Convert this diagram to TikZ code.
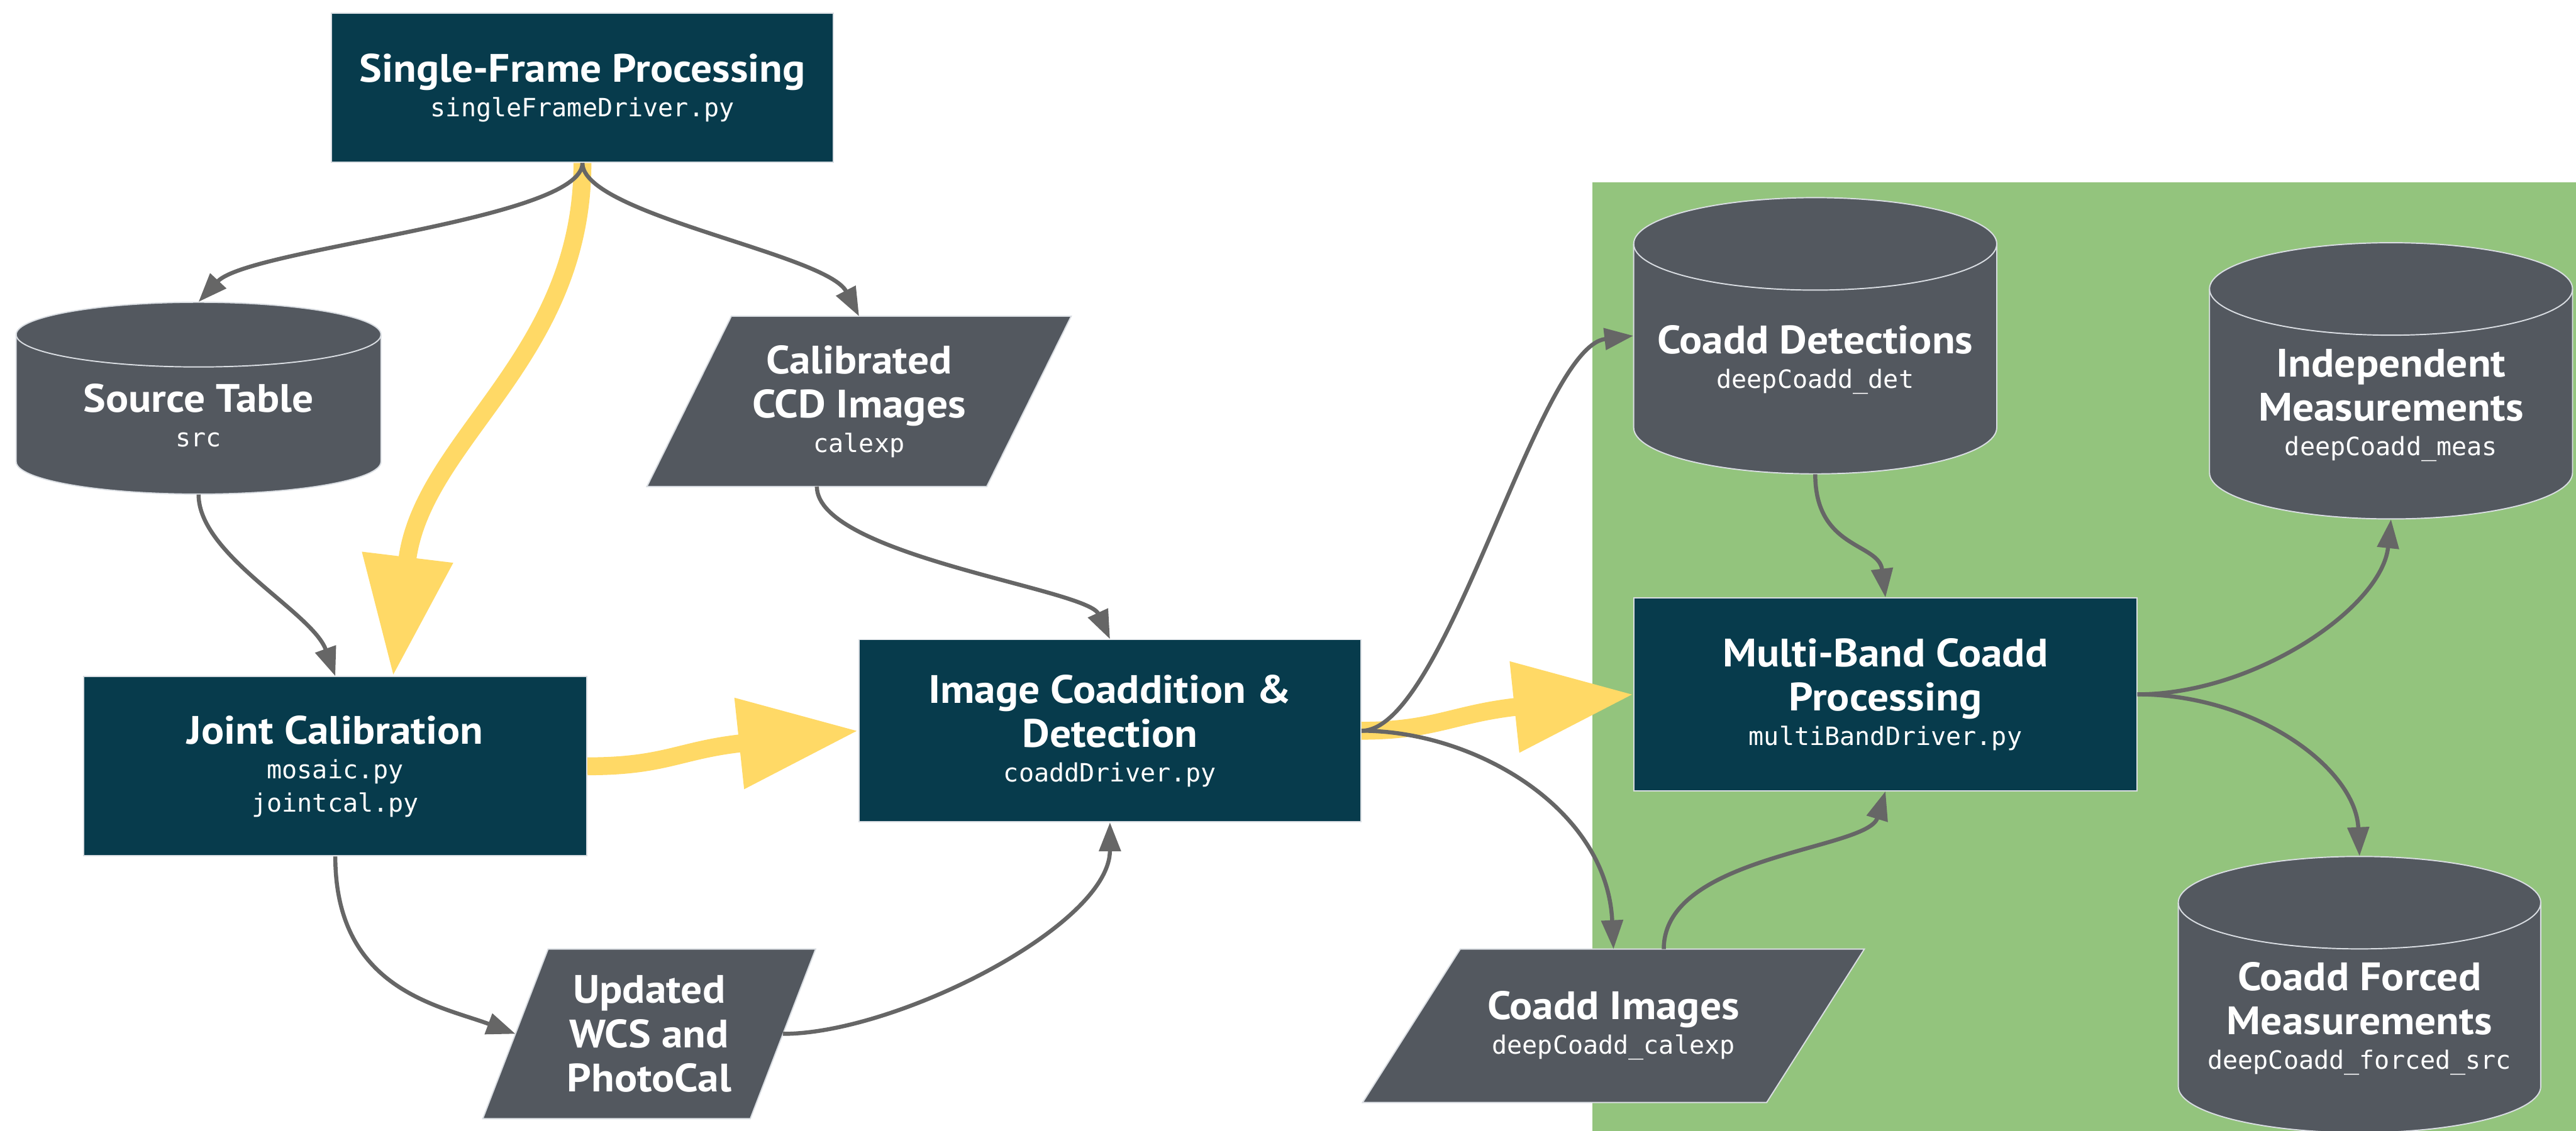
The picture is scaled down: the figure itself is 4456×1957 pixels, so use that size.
\documentclass[tikz,border=0pt]{standalone}
\usepackage{fontspec}
\newfontfamily\titlef{PT Sans}[FakeStretch=1.07]
\newfontfamily\monof{DejaVu Sans Mono}
\usetikzlibrary{arrows.meta,calc}
\definecolor{boxteal}{HTML}{073B4C}
\definecolor{shapegray}{HTML}{53585F}
\definecolor{edgelight}{HTML}{D9DDE2}
\definecolor{arrowgray}{HTML}{666666}
\definecolor{flowyellow}{HTML}{FFD966}
\definecolor{zonegreen}{HTML}{93C47D}
\pgfdeclarelayer{bg}\pgfdeclarelayer{shp}\pgfsetlayers{bg,shp,main}
\newcommand\ttlfont{\titlef\bfseries\fontsize{19.5}{21.7}\selectfont}
\newcommand\cdtxt[1]{{\monof\mdseries\fontsize{12.4}{14}\selectfont #1}}
\tikzset{
  procbox/.style={rectangle, fill=boxteal, draw=edgelight, line width=0.6pt,
    text=white, align=center, inner sep=0pt, font=\ttlfont},
  plainbox/.style={rectangle, inner sep=0pt, text=white, align=center, font=\ttlfont},
  flow/.style={draw=arrowgray, line width=2pt, -{Triangle[length=14.2pt,width=10.5pt]}},
  bigflow/.style={draw=flowyellow, line width=8.8pt, -{Triangle[length=58.9pt,width=42.7pt]}},
  shapefill/.style={fill=shapegray, draw=edgelight, line width=0.6pt},
}
% cylinder: name, cx, cy, width, height, ry, text
\newcommand\dbcyl[7]{%
  \pgfmathsetmacro\cylrx{#4/2}%
  \pgfmathsetmacro\cyltop{#3-#5/2+#6}%
  \pgfmathsetmacro\cylbot{#3+#5/2-#6}%
  \pgfmathsetmacro\cyltxt{#3+#6/2+2}%
  \node[plainbox, minimum width=#4*0.01cm, minimum height=#5*0.01cm] (#1) at (#2,#3) {};
  \begin{pgfonlayer}{shp}
    \path[shapefill] (#2-\cylrx,\cyltop) -- (#2-\cylrx,\cylbot)
      arc[start angle=180,end angle=360,x radius=\cylrx*0.01cm,y radius=#6*0.01cm]
      -- (#2+\cylrx,\cyltop)
      arc[start angle=0,end angle=180,x radius=\cylrx*0.01cm,y radius=#6*0.01cm] -- cycle;
    \draw[edgelight, line width=0.6pt] (#2-\cylrx,\cyltop)
      arc[start angle=180,end angle=360,x radius=\cylrx*0.01cm,y radius=#6*0.01cm];
  \end{pgfonlayer}
  \node[plainbox] (#1-t) at (#2,\cyltxt) {#7};
}
% parallelogram background for a node: name, slant
\newcommand\slantfill[2]{%
  \begin{pgfonlayer}{shp}
    \path[shapefill] ($(#1.north west)+(#2,0)$) -- (#1.north east)
      -- ($(#1.south east)+(-#2,0)$) -- (#1.south west) -- cycle;
  \end{pgfonlayer}
}
\begin{document}
\begin{tikzpicture}[x=0.01cm, y=-0.01cm]
\useasboundingbox (0,0) rectangle (4456,1957);
\begin{pgfonlayer}{bg}
  \fill[white] (0,0) rectangle (4456,1957);
  \fill[zonegreen] (2754,315) rectangle (4456,1957);
\end{pgfonlayer}

% process boxes
\node[procbox, minimum width=8.67cm, minimum height=2.58cm] (sfp) at (1007.5,152)
  {Single-Frame Processing\\[-4.7pt]\cdtxt{singleFrameDriver.py}};
\node[procbox, minimum width=8.70cm, minimum height=3.10cm] (jc) at (580,1326)
  {Joint Calibration\\[-4.7pt]\cdtxt{mosaic.py}\\[-5.2pt]\cdtxt{jointcal.py}};
\node[procbox, minimum width=8.68cm, minimum height=3.15cm] (ic) at (1920,1264.5)
  {Image Coaddition \&\\Detection\\[-4.7pt]\cdtxt{coaddDriver.py}};
\node[procbox, minimum width=8.69cm, minimum height=3.33cm] (mb) at (3261.5,1201.5)
  {Multi-Band Coadd\\Processing\\[-4.7pt]\cdtxt{multiBandDriver.py}};

% data products (parallelograms)
\node[plainbox, minimum width=7.32cm, minimum height=2.93cm] (ccd) at (1486,694.5)
  {Calibrated\\CCD Images\\[-4.7pt]\cdtxt{calexp}};
\slantfill{ccd}{146}
\node[plainbox, minimum width=5.74cm, minimum height=2.92cm] (wcs) at (1123,1789)
  {Updated\\WCS and\\PhotoCal};
\slantfill{wcs}{113}
\node[plainbox, minimum width=8.66cm, minimum height=2.64cm] (ci) at (2791,1775)
  {Coadd Images\\[-4.7pt]\cdtxt{deepCoadd\_calexp}};
\slantfill{ci}{169}

% tables (cylinders)
\dbcyl{st}{343.5}{689}{631}{332}{56}{Source Table\\[-4.7pt]\cdtxt{src}}
\dbcyl{cd}{3140}{581}{628}{478}{80}{Coadd Detections\\[-4.7pt]\cdtxt{deepCoadd\_det}}
\dbcyl{im}{4136}{659}{628}{478}{80}{Independent\\Measurements\\[-4.7pt]\cdtxt{deepCoadd\_meas}}
\dbcyl{cf}{4081.5}{1721}{627}{478}{80}{Coadd Forced\\Measurements\\[-4.7pt]\cdtxt{deepCoadd\_forced\_src}}

% main flow (yellow)
\draw[bigflow] (sfp.south) .. controls +(0,339) and +(50,-411) .. ($(jc.north)+(100,0)$);
\draw[bigflow] (jc.east) .. controls +(135,0) and +(-309,33) .. (ic.west);
\draw[bigflow] (ic.east) .. controls +(126,0) and +(-310,33) .. (mb.west);

% data flow (gray)
\draw[flow] (sfp.south) .. controls +(0,99) and +(87,-93) .. (st.north);
\draw[flow] (sfp.south) .. controls +(0,89) and +(-56,-108) .. (ccd.north);
\draw[flow] (st.south) .. controls +(0,105) and +(-40,-111) .. (jc.north);
\draw[flow] ($(ccd.south)+(-73,0)$) .. controls +(0,119) and +(-40,-87) .. (ic.north);
\draw[flow] (jc.south) .. controls +(0,230) and +(-132,-49) .. ($(wcs.west)+(56.5,0)$);
\draw[flow] ($(wcs.east)+(-56.5,0)$) .. controls +(196,0) and +(0,178) .. (ic.south);
\draw[flow] (ic.east) .. controls +(146,0) and +(-166,19) .. (cd.west);
\draw[flow] (ic.east) .. controls +(196,0) and +(-11,-243) .. (ci.north);
\draw[flow] (cd.south) .. controls +(0,130) and +(-11.5,-95) .. (mb.north);
\draw[flow] ($(ci.north)+(87,0)$) .. controls +(0,-163) and +(-31,102) .. (mb.south);
\draw[flow] (mb.east) .. controls +(204,0) and +(-16,152) .. (im.south);
\draw[flow] (mb.east) .. controls +(204,0) and +(-6.5,-152) .. (cf.north);
\end{tikzpicture}
\end{document}
